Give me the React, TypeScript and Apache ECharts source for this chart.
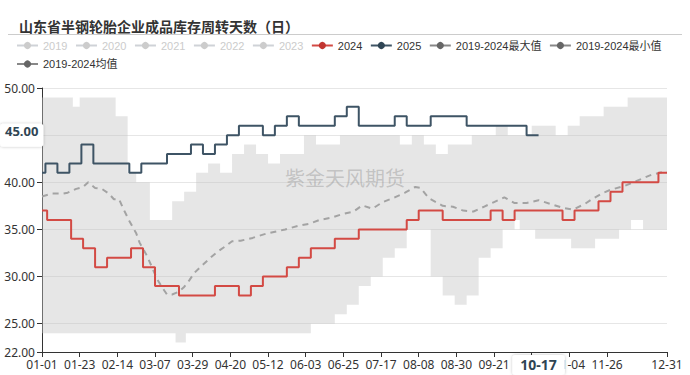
import { useEffect, useRef } from 'react';
import * as echarts from 'echarts';

const chartTitle = '山东省半钢轮胎企业成品库存周转天数（日）';
const watermark = '紫金天风期货';

const hiddenYears = ['2019', '2020', '2021', '2022', '2023'];
const nameMax = '2019-2024最大值';
const nameMin = '2019-2024最小值';
const nameMean = '2019-2024均值';

const dates2024 = ['01-01', '01-04', '01-11', '01-18', '01-25', '02-01', '02-08', '02-15', '02-22', '02-29',
  '03-07', '03-14', '03-21', '03-28', '04-04', '04-11', '04-18', '04-25', '05-02', '05-09',
  '05-16', '05-23', '05-30', '06-06', '06-13', '06-20', '06-27', '07-04', '07-11', '07-18',
  '07-25', '08-01', '08-08', '08-15', '08-22', '08-29', '09-05', '09-12', '09-19', '09-26',
  '10-03', '10-10', '10-17', '10-24', '10-31', '11-07', '11-14', '11-21', '11-28', '12-05',
  '12-12', '12-19', '12-26', '12-31'];
const values2024 = [37, 36, 36, 34, 33, 31, 32, 32, 33, 31,
  29, 29, 28, 28, 28, 29, 29, 28, 29, 30,
  30, 31, 32, 33, 33, 34, 34, 35, 35, 35,
  35, 36, 37, 37, 36, 36, 36, 36, 37, 36,
  37, 37, 37, 37, 36, 37, 37, 38, 39, 40,
  40, 40, 41, 41];

const dates2025 = ['01-01', '01-03', '01-10', '01-17', '01-24', '01-31', '02-07', '02-14', '02-21', '02-28',
  '03-07', '03-14', '03-21', '03-28', '04-04', '04-11', '04-18', '04-25', '05-02', '05-09',
  '05-16', '05-23', '05-30', '06-06', '06-13', '06-20', '06-27', '07-04', '07-11', '07-18',
  '07-25', '08-01', '08-08', '08-15', '08-22', '08-29', '09-05', '09-12', '09-19', '09-26',
  '10-03', '10-10', '10-17'];
const values2025 = [41, 42, 41, 42, 44, 42, 42, 42, 41, 42,
  42, 43, 43, 44, 43, 44, 45, 46, 46, 45,
  46, 47, 46, 46, 46, 47, 48, 46, 46, 46,
  47, 46, 46, 47, 47, 47, 46, 46, 46, 46,
  46, 45, 45];

const bandDates = ['01-01', '01-19', '01-23', '02-13', '02-20', '02-25', '03-04', '03-17', '03-19', '03-24',
  '03-25', '03-31', '04-07', '04-14', '04-21', '04-28', '05-05', '05-12', '05-19', '06-02',
  '06-06', '06-09', '06-20', '06-23', '06-27', '07-04', '07-11', '07-18', '07-25', '07-28',
  '08-01', '08-04', '08-11', '08-15', '08-18', '08-22', '08-25', '08-29', '09-05', '09-08',
  '09-12', '09-19', '09-22', '09-26', '09-29', '10-03', '10-06', '10-13', '10-15', '10-27',
  '11-03', '11-05', '11-10', '11-19', '11-24', '12-03', '12-08', '12-10', '12-17', '12-31'];
const bandMax = [49, 48, 49, 47, 41, 40, 36, 38, 38, 39,
  39, 41, 42, 41, 43, 44, 43, 42, 43, 45,
  45, 44, 44, 45, 45, 45, 45, 45, 45, 44,
  44, 45, 44, 44, 43, 43, 44, 44, 44, 45,
  45, 45, 46, 46, 45, 45, 45, 46, 46, 45,
  46, 46, 47, 47, 48, 48, 49, 49, 49, 49];
const bandMin = [24, 24, 24, 24, 24, 24, 24, 24, 23, 23,
  24, 24, 24, 24, 24, 24, 24, 24, 24, 24,
  25, 25, 26, 26, 27, 29, 30, 32, 33, 33,
  35, 35, 35, 30, 30, 28, 28, 27, 28, 28,
  32, 33, 33, 35, 35, 36, 35, 35, 34, 34,
  34, 33, 33, 34, 34, 35, 35, 36, 35, 35];

const meanDates = ['01-01', '01-07', '01-13', '01-16', '01-21', '01-25', '01-28', '02-01', '02-05', '02-09',
  '02-12', '02-15', '02-18', '02-21', '02-25', '02-27', '03-02', '03-05', '03-08', '03-11',
  '03-14', '03-17', '03-21', '03-24', '03-27', '03-30', '04-03', '04-09', '04-13', '04-17',
  '04-21', '04-26', '05-03', '05-10', '05-22', '05-30', '06-05', '06-11', '06-18', '06-24',
  '07-01', '07-06', '07-12', '07-18', '07-25', '07-31', '08-06', '08-09', '08-14', '08-22',
  '08-28', '09-03', '09-09', '09-15', '09-21', '09-27', '10-03', '10-10', '10-17', '10-24',
  '10-31', '11-06', '11-13', '11-18', '11-24', '11-28', '12-06', '12-14', '12-22', '12-29',
  '12-31'];
const meanValues = [38.5, 38.8, 38.8, 38.9, 39.3, 39.5, 40.0, 39.4, 39.3, 38.8,
  38.2, 38.2, 37.0, 35.9, 34.6, 33.6, 32.3, 31.1, 29.8, 28.9,
  28.1, 28.1, 28.4, 28.9, 29.6, 30.4, 31.1, 32.1, 32.7, 33.2,
  33.75, 33.8, 34.1, 34.5, 35.0, 35.4, 35.6, 36.0, 36.25, 36.6,
  36.9, 37.55, 37.2, 37.9, 38.4, 38.9, 39.5, 39.4, 38.3, 37.5,
  37.4, 37.0, 36.9, 37.4, 37.9, 38.4, 37.8, 37.8, 38.1, 37.7,
  37.3, 37.1, 37.7, 38.3, 38.9, 39.2, 39.6, 40.2, 40.8, 41.1,
  41.1];

const pointerDate = '10-17';
const pointerValue = 45;
// axis label covered by the pointer label in the reference
const coveredXLabel = '10-13';

function buildDays(): string[] {
  const out: string[] = [];
  const d = new Date(Date.UTC(2024, 0, 1));
  while (d.getUTCFullYear() === 2024) {
    out.push(String(d.getUTCMonth() + 1).padStart(2, '0') + '-' + String(d.getUTCDate()).padStart(2, '0'));
    d.setUTCDate(d.getUTCDate() + 1);
  }
  return out;
}

const pair = (ds: string[], vs: number[]) => ds.map((d, i) => [d, vs[i]]);

const FONT = '"Noto Sans", "Noto Sans CJK SC", sans-serif';
const LEGEND_FONT = '"Liberation Sans", "Noto Sans CJK SC", sans-serif';

export default function App() {
  const ref = useRef<HTMLDivElement>(null);
  useEffect(() => {
    if (!ref.current) return;
    const chart = echarts.init(ref.current, undefined, { renderer: 'svg' });
    const cats = buildDays();
    const selected: Record<string, boolean> = {};
    hiddenYears.forEach((y) => (selected[y] = false));
    const pointerLabel = {
      backgroundColor: '#fff',
      color: '#2f4554',
      fontWeight: 'bold',
      fontSize: 14,
      padding: [3, 8, 3, 8],
      borderRadius: 3,
      shadowBlur: 3,
      shadowColor: 'rgba(0,0,0,0.25)',
      fontFamily: FONT,
    };
    const option: any = {
      animation: false,
      textStyle: { fontFamily: FONT },
      title: {
        text: chartTitle,
        left: 14,
        top: 14,
        textStyle: { fontSize: 14, fontWeight: 'bold', color: '#333', fontFamily: FONT },
      },
      graphic: [
        { type: 'line', shape: { x1: 8, y1: 34.5, x2: 682, y2: 34.5 }, style: { stroke: '#ccc', lineWidth: 1 } },
        {
          type: 'text', left: 285, top: 168, z: 5,
          style: { text: watermark, fontSize: 20, fill: 'rgba(150,150,150,0.45)', fontFamily: FONT },
        },
      ],
      legend: {
        left: 11,
        top: 35,
        right: 0,
        itemWidth: 21,
        itemHeight: 9,
        itemGap: 7.5,
        inactiveColor: '#ccc',
        textStyle: { fontSize: 11, color: '#333', fontFamily: LEGEND_FONT, padding: [0, 4.3, 0, 0] },
        selected,
        data: [
          ...hiddenYears,
          '2024',
          '2025',
          { name: nameMax, itemStyle: { color: '#666', opacity: 1 }, lineStyle: { color: '#888', opacity: 1, width: 2 } },
          { name: nameMin, itemStyle: { color: '#666', opacity: 1 }, lineStyle: { color: '#888', opacity: 1, width: 2 } },
          { name: nameMean, itemStyle: { color: '#666', opacity: 1 }, lineStyle: { color: '#888', opacity: 1, width: 2, type: 'solid' } },
        ],
      },
      grid: { left: 42, right: 23, top: 88, bottom: 23, containLabel: false },
      xAxis: {
        type: 'category',
        data: cats,
        boundaryGap: false,
        axisLine: { lineStyle: { color: '#333' } },
        axisTick: { length: 5, lineStyle: { color: '#333' } },
        axisLabel: {
          interval: 21, showMaxLabel: true, color: '#333', fontSize: 12, margin: 6,
          formatter: (v: string) => (v === coveredXLabel ? '' : v),
        },
        splitLine: { show: false },
        axisPointer: {
          show: true,
          status: 'show',
          value: cats.indexOf(pointerDate),
          type: 'line',
          lineStyle: { color: 'rgba(0,0,0,0)', width: 0 },
          label: { ...pointerLabel, margin: 4 },
        },
      },
      yAxis: {
        type: 'value',
        min: 22,
        max: 50,
        axisLine: { show: true, lineStyle: { color: '#333' } },
        axisTick: { show: true, length: 5, lineStyle: { color: '#333' } },
        axisLabel: {
          color: '#333', fontSize: 12, margin: 7,
          formatter: (v: number) => (v === pointerValue ? '' : v.toFixed(2)),
        },
        splitLine: { lineStyle: { color: '#e6e6e6' } },
        axisPointer: {
          show: true,
          status: 'show',
          value: pointerValue,
          type: 'line',
          lineStyle: { color: 'rgba(0,0,0,0)', width: 0 },
          label: {
            ...pointerLabel, fontSize: 13, padding: [1, 5, 9, 5],
            formatter: (p: any) => Number(p.value).toFixed(2),
          },
        },
      },
      series: [
        ...hiddenYears.map((y) => ({
          name: y, type: 'line', data: [], symbol: 'circle', showSymbol: false,
          itemStyle: { color: '#aaa' }, lineStyle: { color: '#aaa' },
        })),
        {
          name: nameMin, type: 'line', stack: 'band', step: 'end', symbol: 'circle', showSymbol: false,
          data: pair(bandDates, bandMin), lineStyle: { opacity: 0 }, itemStyle: { color: '#666' }, z: 1, silent: true,
        },
        {
          name: nameMax, type: 'line', stack: 'band', step: 'end', symbol: 'circle', showSymbol: false,
          data: bandDates.map((d, i) => [d, bandMax[i] - bandMin[i]]),
          lineStyle: { opacity: 0 }, itemStyle: { color: '#666' },
          areaStyle: { color: 'rgba(195,195,195,0.42)', opacity: 1 }, z: 1, silent: true,
        },
        {
          name: nameMean, type: 'line', symbol: 'circle', showSymbol: false,
          data: pair(meanDates, meanValues),
          lineStyle: { color: '#a3a3a3', width: 2, type: [6, 5] }, itemStyle: { color: '#666' }, z: 2,
        },
        {
          name: '2024', type: 'line', step: 'end', symbol: 'circle', showSymbol: false,
          data: pair(dates2024, values2024),
          lineStyle: { color: '#d34a44', width: 2 }, itemStyle: { color: '#c23531' }, z: 3,
        },
        {
          name: '2025', type: 'line', step: 'end', symbol: 'circle', showSymbol: false,
          data: pair(dates2025, values2025),
          lineStyle: { color: '#3e5465', width: 2 }, itemStyle: { color: '#2f4554' }, z: 4,
        },
      ],
    };
    chart.setOption(option);
    return () => chart.dispose();
  }, []);
  return (
    <div
      ref={ref}
      style={{ position: 'fixed', left: 0, top: 0, width: 690, height: 375, background: '#fff' }}
    />
  );
}
